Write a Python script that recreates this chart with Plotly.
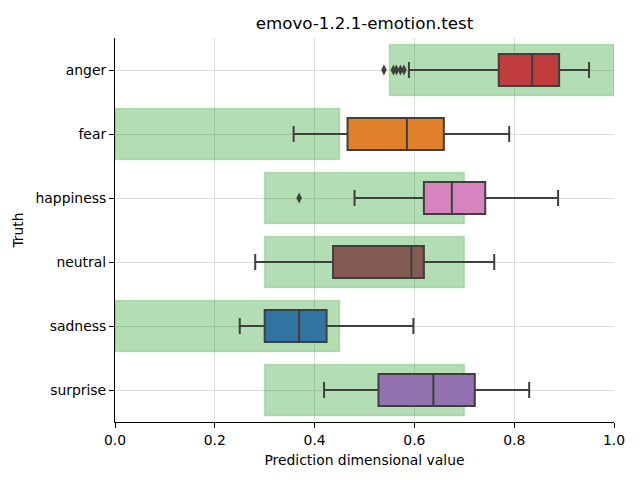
import plotly.graph_objects as go

categories = ["anger", "fear", "happiness", "neutral", "sadness", "surprise"]
colors = ["#c03d3e", "#e1812c", "#d684bd", "#845b53", "#3274a1", "#9372b2"]

# expected ranges (green bands)
range_lo = [0.55, 0.0, 0.30, 0.30, 0.0, 0.30]
range_hi = [1.00, 0.45, 0.70, 0.70, 0.45, 0.70]

# box statistics
lower_whisker = [0.589, 0.358, 0.480, 0.281, 0.250, 0.419]
q1 = [0.769, 0.466, 0.619, 0.437, 0.300, 0.528]
median = [0.836, 0.585, 0.675, 0.594, 0.369, 0.638]
q3 = [0.890, 0.659, 0.742, 0.619, 0.424, 0.721]
upper_whisker = [0.950, 0.790, 0.888, 0.760, 0.598, 0.830]

# outliers
outlier_cat = ["anger", "anger", "anger", "anger", "anger", "happiness"]
outlier_val = [0.539, 0.558, 0.564, 0.572, 0.579, 0.369]

fig = go.Figure()

fig.add_trace(go.Bar(
    y=categories,
    x=[h - l for l, h in zip(range_lo, range_hi)],
    base=range_lo,
    orientation="h",
    width=0.8,
    marker=dict(color="rgba(44,160,44,0.36)",
                line=dict(color="rgba(44,160,44,0.25)", width=1.5)),
    showlegend=False,
    hoverinfo="skip",
))

for i, c in enumerate(categories):
    fig.add_trace(go.Box(
        y=[c],
        q1=[q1[i]], median=[median[i]], q3=[q3[i]],
        lowerfence=[lower_whisker[i]], upperfence=[upper_whisker[i]],
        orientation="h",
        width=0.5,
        whiskerwidth=0.5,
        fillcolor=colors[i],
        line=dict(color="#3f3f3f", width=2),
        showlegend=False,
    ))

fig.add_trace(go.Scatter(
    x=outlier_val, y=outlier_cat, mode="markers",
    marker=dict(symbol="diamond-tall", size=8, color="#3f3f3f"),
    showlegend=False,
))

font = "DejaVu Sans, sans-serif"
fig.update_layout(
    width=640, height=480,
    margin=dict(l=115, r=26, t=38, b=58),
    plot_bgcolor="white", paper_bgcolor="white",
    barmode="overlay", boxmode="overlay",
    font=dict(family=font, size=13.9, color="black"),
    title=dict(text="emovo-1.2.1-emotion.test", x=0.5, xref="paper",
               xanchor="center", y=(480 - 23) / 480, yref="container",
               yanchor="middle", font=dict(size=16.7, family=font)),
    xaxis=dict(range=[0, 1], tickvals=[0, 0.2, 0.4, 0.6, 0.8, 1.0],
               tickformat=".1f", showgrid=True, gridcolor="#dcdcdc",
               gridwidth=1, zeroline=False, showline=True, linecolor="black",
               linewidth=1.1, ticks="outside", ticklen=5, tickcolor="black",
               title=dict(text="Prediction dimensional value", standoff=8,
                          font=dict(size=13.9))),
    yaxis=dict(categoryorder="array", categoryarray=categories,
               range=[5.5, -0.5], autorange=False,
               showgrid=True, gridcolor="#dcdcdc",
               gridwidth=1, zeroline=False, showline=True, linecolor="black",
               linewidth=1.1, ticks="outside", ticklen=5, tickcolor="black",
               title=dict(text="Truth", standoff=8, font=dict(size=13.9))),
)

fig.write_html("out.html")
